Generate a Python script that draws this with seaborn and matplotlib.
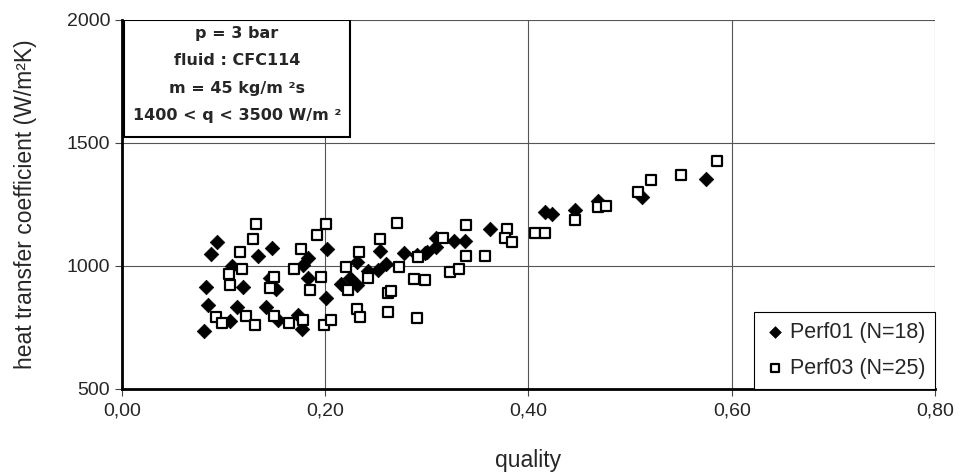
import matplotlib
matplotlib.use("Agg")
import matplotlib.pyplot as plt
import seaborn as sns
from matplotlib.patches import Rectangle
from matplotlib.ticker import FuncFormatter

# Perf01 (filled diamonds): quality, heat transfer coefficient (W/m2K)
perf01_quality = [0.081, 0.085, 0.083, 0.088, 0.094, 0.106, 0.108, 0.113, 0.119, 0.134,
                  0.142, 0.146, 0.148, 0.152, 0.154, 0.173, 0.177, 0.178, 0.183, 0.183,
                  0.201, 0.202, 0.216, 0.224, 0.231, 0.231, 0.242, 0.252, 0.254, 0.260,
                  0.278, 0.290, 0.298, 0.300, 0.309, 0.309, 0.327, 0.338, 0.362, 0.416,
                  0.4235, 0.4455, 0.468, 0.512, 0.575]
perf01_htc = [737, 841, 913, 1049, 1095, 776, 1000, 832, 913, 1040,
              832, 952, 1072, 907, 778, 799, 742, 1004, 1032, 950,
              869, 1070, 925, 950, 1015, 923, 980, 984, 1060, 1008,
              1052, 1045, 1052, 1058, 1112, 1078, 1102, 1099, 1150, 1217,
              1210, 1228, 1265, 1278, 1354]

# Perf03 (open squares)
perf03_quality = [0.093, 0.098, 0.105, 0.106, 0.116, 0.118, 0.122, 0.129, 0.131, 0.132,
                  0.146, 0.150, 0.150, 0.1645, 0.169, 0.176, 0.178, 0.185, 0.192, 0.196,
                  0.199, 0.201, 0.206, 0.220, 0.2225, 0.231, 0.234, 0.233, 0.242, 0.254,
                  0.262, 0.262, 0.265, 0.271, 0.273, 0.287, 0.290, 0.291, 0.2985, 0.316,
                  0.3225, 0.332, 0.339, 0.339, 0.357, 0.379, 0.377, 0.384, 0.406, 0.416,
                  0.446, 0.468, 0.4765, 0.508, 0.521, 0.550, 0.585]
perf03_htc = [790, 767, 965, 923, 1057, 987, 798, 1111, 760, 1171,
              909, 956, 794, 768, 986, 1068, 780, 902, 1126, 955,
              760, 1172, 779, 996, 901, 824, 792, 1058, 949, 1108,
              812, 889, 896, 1173, 996, 948, 786, 1036, 942, 1112,
              973, 988, 1165, 1038, 1038, 1151, 1112, 1097, 1135, 1135,
              1187, 1241, 1244, 1302, 1350, 1368, 1425]

box_lines = ["p = 3 bar", "fluid : CFC114", "m = 45 kg/m ²s", "1400 < q < 3500 W/m ²"]
x_ticks = [0.0, 0.2, 0.4, 0.6, 0.8]
y_ticks = [500, 1000, 1500, 2000]

sns.set_style("white")
plt.rcParams['font.family'] = ['Liberation Sans', 'DejaVu Sans']

fig = plt.figure(figsize=(9.6, 4.73), dpi=100)
ax = fig.add_axes([0.127, 0.178, 0.847, 0.780])

sns.scatterplot(x=perf01_quality, y=perf01_htc, marker='D', color='black', s=55,
                edgecolor='black', linewidth=0.5, label='Perf01 (N=18)', ax=ax, zorder=3)
sns.scatterplot(x=perf03_quality, y=perf03_htc, marker='s', color='white', s=52,
                edgecolor='black', linewidth=1.6, label='Perf03 (N=25)', ax=ax, zorder=4)

ax.set_xlim(0, 0.8)
ax.set_ylim(500, 2000)
ax.set_xticks(x_ticks)
ax.set_yticks(y_ticks)
ax.xaxis.set_major_formatter(FuncFormatter(lambda v, p: f"{v:.2f}".replace('.', ',')))
ax.tick_params(axis='both', labelsize=14, direction='out', length=5, width=0.8,
               color='#444444', left=True, bottom=True)
ax.tick_params(axis='x', pad=5)
ax.grid(True, color='#555555', linewidth=0.8)
ax.set_axisbelow(True)

for side in ['top', 'right']:
    ax.spines[side].set_visible(False)
for side in ['left', 'bottom']:
    ax.spines[side].set_color('black')
    ax.spines[side].set_linewidth(2)

ax.set_xlabel('quality', fontsize=16.5, labelpad=21)
ax.set_ylabel('heat transfer coefficient (W/m²K)', fontsize=16.5, labelpad=21)

# conditions box in the top left corner
ax.add_patch(Rectangle((0.003, 0.683), 0.277, 0.317, transform=ax.transAxes,
                       facecolor='white', edgecolor='black', linewidth=1.5, zorder=5))
for txt, yy in zip(box_lines, [0.962, 0.889, 0.813, 0.742]):
    ax.text(0.1415, yy, txt, transform=ax.transAxes, ha='center', va='center',
            fontsize=11.5, fontweight='bold', family=['DejaVu Sans'], zorder=6)

leg = ax.legend(loc='lower right', borderaxespad=0, fancybox=False, framealpha=1,
                edgecolor='black', fontsize=15.5, handletextpad=0.2, markerscale=0.8,
                borderpad=0.45, labelspacing=0.7, handlelength=1.0)
leg.get_frame().set_linewidth(0.8)
leg.set_zorder(7)

plt.savefig('out.png', dpi=100)
